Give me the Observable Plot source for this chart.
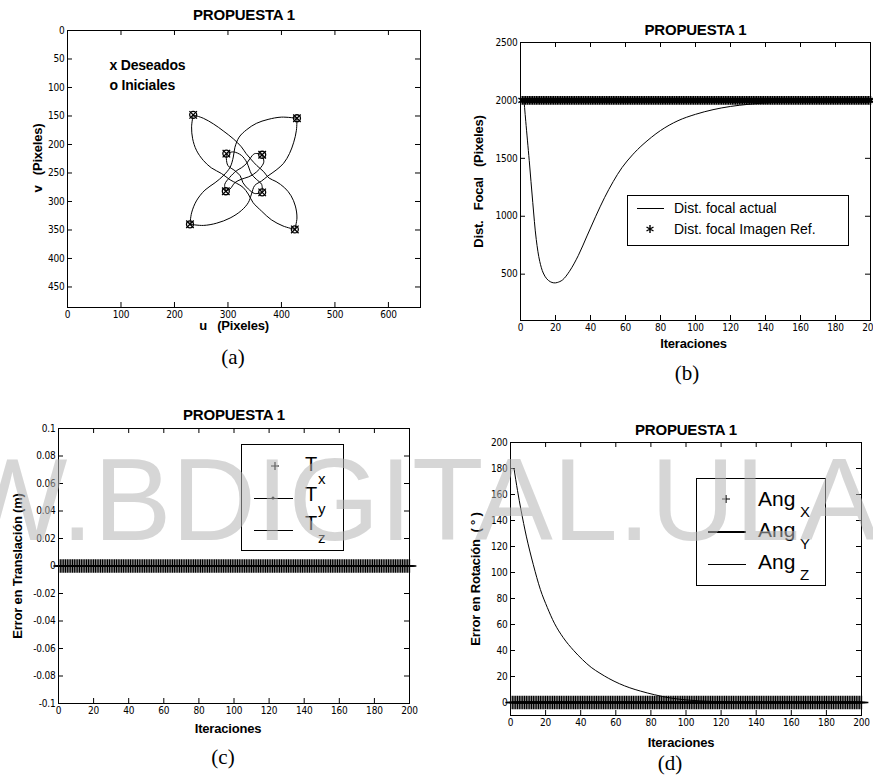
<!DOCTYPE html>
<html>
<head>
<meta charset="utf-8">
<script src="https://cdn.jsdelivr.net/npm/d3@7"></script>
<script src="https://cdn.jsdelivr.net/npm/@observablehq/plot@0.6"></script>
<style>
  body { margin: 0; background: #fff; }
  #page { position: relative; width: 873px; height: 782px; overflow: hidden; background: #fff; font-family: "Liberation Sans", Arial, sans-serif; }
  .cap { position: absolute; font-family: "Liberation Serif", "Times New Roman", serif; font-size: 21px; transform: translate(-50%, -50%); line-height: 1; }
  .legend { position: absolute; box-sizing: border-box; border: 1px solid #000; background: #fff; }
  .legend .ln { position: absolute; border-top: 1px solid #000; height: 0; }
  .legend .lt { position: absolute; transform: translateY(-50%); line-height: 1; white-space: nowrap; color: #000; }
  .legend svg { position: absolute; overflow: visible; }
  #wm { position: absolute; left: -43px; top: 441px; font-family: "Liberation Sans", Arial, sans-serif; font-size: 117px; line-height: 117px; white-space: nowrap; color: rgba(180,180,180,0.55); pointer-events: none; z-index: 10; }
</style>
</head>
<body>
<div id="page"></div>
<script>
// ---------- (a) trayectorias en el plano imagen ----------
const uTicks = [0, 100, 200, 300, 400, 500, 600];
const vTicks = [0, 50, 100, 150, 200, 250, 300, 350, 400, 450];
const puntosU = [235, 429, 229, 425, 297, 364, 296, 364];
const puntosV = [148, 154, 340, 349, 216, 218, 282, 284];
const tray1 = [[235,148],[254,154],[273,164],[291,176],[310,190],[325,204],[334,216],[344,227],[354,237],[366,247],[377,259],[390,265],[406,276],[418,290],[426,308],[429,329],[425,349]];
const tray2 = [[429,154],[428,175],[423,196],[415,216],[404,233],[390,245],[375,255],[363,264],[350,272],[344,287],[338,302],[325,316],[304,329],[279,338],[254,342],[229,340]];
const tray3 = [[425,349],[403,343],[381,332],[363,317],[347,302],[338,287],[328,275],[316,268],[304,262],[288,251],[269,241],[254,228],[241,210],[234,190],[232,169],[235,148]];
const tray4 = [[229,340],[232,320],[241,299],[257,280],[276,267],[291,255],[304,240],[310,222],[313,205],[321,187],[335,174],[353,163],[375,156],[400,152],[429,154]];
const tray5 = [[297,216],[310,213],[325,219],[335,231],[340,243],[344,252],[353,261],[363,270],[364,284]];
const tray6 = [[364,218],[367,231],[359,243],[348,252],[338,257],[325,261],[313,267],[304,278],[296,282]];
const tray7 = [[364,284],[350,286],[338,278],[328,267],[323,255],[313,246],[300,237],[297,225],[297,216]];
const tray8 = [[296,282],[294,270],[303,258],[316,246],[325,241],[335,233],[341,225],[350,216],[364,218]];

// ---------- (b) distancia focal ----------
const iterTicks = [0, 20, 40, 60, 80, 100, 120, 140, 160, 180, 200];
const focalTicks = [500, 1000, 1500, 2000, 2500];
const iterFocal = [2, 3, 5, 7, 9, 11, 13, 15, 17, 19, 21, 24, 28, 33, 38, 43, 48, 53, 58, 64, 70, 80, 90, 100, 110, 120, 130, 140, 155, 170, 200];
const distFocal = [2000, 1820, 1480, 1120, 800, 610, 510, 460, 435, 425, 428, 450, 525, 660, 830, 1000, 1160, 1300, 1420, 1530, 1620, 1740, 1825, 1880, 1920, 1948, 1966, 1978, 1988, 1994, 1998];
const focalRef = 2000;
const iteraciones = d3.range(1, 201);

// ---------- (c) error en translacion ----------
const transTicks = [-0.1, -0.08, -0.06, -0.04, -0.02, 0, 0.02, 0.04, 0.06, 0.08, 0.1];
const errTx = 0, errTy = 0, errTz = 0;

// ---------- (d) error en rotacion ----------
const rotTicks = [0, 20, 40, 60, 80, 100, 120, 140, 160, 180, 200];
const iterAngZ = [2, 4, 6, 9, 13, 17, 21, 25, 30, 36, 41, 46, 51, 56, 62, 68, 74, 82, 91, 100, 115, 130, 150, 175, 200];
const angZ = [180, 163, 148, 128, 106, 87, 73, 61, 50, 40, 33, 27, 22.5, 18.5, 14.5, 11.3, 8.8, 6, 3.5, 2, 0.8, 0.3, 0.1, 0, 0];
const errAngX = 0, errAngY = 0;

const tickFont = '"Liberation Sans Narrow","DejaVu Sans Condensed","Liberation Sans",Arial,sans-serif';
const boldFont = '"Liberation Sans",Arial,sans-serif';
const page = document.getElementById("page");

function makePanel(p) {
  const iw = p.width - p.mL - p.mR, ih = p.height - p.mT - p.mB, t = 5;
  const chart = Plot.plot({
    width: p.width, height: p.height,
    marginLeft: p.mL, marginRight: p.mR, marginTop: p.mT, marginBottom: p.mB,
    x: {domain: p.xDomain, label: null},
    y: {domain: p.yDomain, reverse: !!p.yReverse, label: null},
    style: {fontFamily: tickFont, fontSize: "10px", color: "black", background: "transparent", overflow: "visible", letterSpacing: "-0.2px"},
    marks: [
      ...p.marks,
      Plot.tickX(p.xTicks, {x: d => d, insetTop: ih - t, stroke: "black"}),
      Plot.tickX(p.xTicks, {x: d => d, insetBottom: ih - t, stroke: "black"}),
      Plot.tickY(p.yTicks, {y: d => d, insetRight: iw - t, stroke: "black"}),
      Plot.tickY(p.yTicks, {y: d => d, insetLeft: iw - t, stroke: "black"}),
      Plot.axisX({ticks: p.xTicks, tickSize: 0, tickPadding: 3, tickFormat: d => String(d), label: null}),
      Plot.axisY({ticks: p.yTicks, tickSize: 0, tickPadding: 3, tickFormat: d => String(d), label: null}),
      Plot.frame({stroke: "black", strokeWidth: 1}),
      Plot.text([p.title], {text: d => d, frameAnchor: "top", lineAnchor: "middle", textAnchor: "middle", dx: p.titleDx || 0, dy: p.titleDy, fontFamily: boldFont, fontWeight: "bold", fontSize: 15}),
      Plot.text([p.xLabel], {text: d => d, frameAnchor: "bottom", lineAnchor: "middle", textAnchor: "middle", dx: p.xLabelDx, dy: p.xLabelDy, fontFamily: boldFont, fontWeight: "bold", fontSize: 13}),
      Plot.text([p.yLabel], {text: d => d, frameAnchor: "left", lineAnchor: "middle", textAnchor: "middle", dx: p.yLabelDx, dy: p.yLabelDy || 0, rotate: -90, fontFamily: boldFont, fontWeight: "bold", fontSize: 13})
    ]
  });
  chart.style.position = "absolute";
  chart.style.left = p.left + "px";
  chart.style.top = p.top + "px";
  page.appendChild(chart);
}

const nb = "\u00a0";
const trayectorias = [tray1, tray2, tray3, tray4, tray5, tray6, tray7, tray8]
  .flatMap((tr, i) => tr.map(([u, v]) => ({u, v, id: i})));
const puntos = puntosU.map((u, i) => ({u, v: puntosV[i]}));

// (a)
makePanel({
  left: 0, top: 0, width: 440, height: 345, mL: 67, mR: 20, mT: 30, mB: 38,
  xDomain: [0, 660], yDomain: [0, 486], yReverse: true,
  xTicks: uTicks, yTicks: vTicks,
  title: "PROPUESTA 1", titleDy: -15,
  xLabel: "u" + nb + nb + nb + "(Pixeles)", xLabelDx: -10, xLabelDy: 18,
  yLabel: "v" + nb + nb + nb + "(Pixeles)", yLabelDx: -30, yLabelDy: -11,
  marks: [
    Plot.line(trayectorias, {x: "u", y: "v", z: "id", curve: "catmull-rom", stroke: "black", strokeWidth: 1}),
    Plot.dot(puntos, {x: "u", y: "v", symbol: "circle", r: 3.5, stroke: "black", strokeWidth: 1.3, fill: "none"}),
    Plot.dot(puntos, {x: "u", y: "v", symbol: "times", r: 3.5, stroke: "black", strokeWidth: 1.3, fill: "none"}),
    Plot.text(["x Deseados"], {text: d => d, frameAnchor: "top-left", textAnchor: "start", lineAnchor: "middle", dx: 42, dy: 35, fontFamily: boldFont, fontWeight: "bold", fontSize: 14}),
    Plot.text(["o Iniciales"], {text: d => d, frameAnchor: "top-left", textAnchor: "start", lineAnchor: "middle", dx: 42, dy: 55, fontFamily: boldFont, fontWeight: "bold", fontSize: 14})
  ]
});

// (b)
const focalData = iterFocal.map((it, i) => ({it, f: distFocal[i]}));
makePanel({
  left: 440, top: 0, width: 433, height: 400, mL: 80, mR: 3, mT: 42, mB: 80,
  xDomain: [0, 200], yDomain: [100, 2500],
  xTicks: iterTicks, yTicks: focalTicks,
  title: "PROPUESTA 1", titleDy: -12,
  xLabel: "Iteraciones", xLabelDx: -2, xLabelDy: 23,
  yLabel: "Dist." + nb + nb + nb + "Focal" + nb + nb + nb + "(Pixeles)", yLabelDx: -42,
  marks: [
    Plot.dot(iteraciones, {x: d => d, y: () => focalRef, symbol: "asterisk", r: 4.2, stroke: "black", strokeWidth: 1.5, fill: "none"}),
    Plot.line(focalData, {x: "it", y: "f", curve: "catmull-rom", stroke: "black", strokeWidth: 1})
  ]
});

// (c)
makePanel({
  left: 0, top: 400, width: 440, height: 382, mL: 58, mR: 31, mT: 28, mB: 79,
  xDomain: [0, 200], yDomain: [-0.1, 0.1],
  xTicks: iterTicks, yTicks: transTicks,
  title: "PROPUESTA 1", titleDy: -13,
  xLabel: "Iteraciones", xLabelDx: -6, xLabelDy: 25,
  yLabel: "Error en Translación (m)", yLabelDx: -41,
  marks: [
    Plot.lineY(iteraciones, {x: d => d, y: () => errTz, stroke: "black", strokeWidth: 1}),
    Plot.lineY(iteraciones, {x: d => d, y: () => errTy, stroke: "black", strokeWidth: 1.5}),
    Plot.dot(iteraciones, {x: d => d, y: () => errTx, symbol: "plus", r: 4.5, stroke: "black", strokeWidth: 1.3, fill: "none"})
  ]
});

// (d)
const angData = iterAngZ.map((it, i) => ({it, a: angZ[i]}));
makePanel({
  left: 440, top: 400, width: 433, height: 382, mL: 70, mR: 12, mT: 42, mB: 67,
  xDomain: [0, 200], yDomain: [-10, 200],
  xTicks: iterTicks, yTicks: rotTicks,
  title: "PROPUESTA 1", titleDy: -12,
  xLabel: "Iteraciones", xLabelDx: -5, xLabelDy: 27,
  yLabel: "Error en Rotación" + nb + nb + "(" + nb + "°" + nb + ")", yLabelDx: -35,
  marks: [
    Plot.lineY(iteraciones, {x: d => d, y: () => errAngY, stroke: "black", strokeWidth: 2}),
    Plot.dot(iteraciones, {x: d => d, y: () => errAngX, symbol: "plus", r: 4.5, stroke: "black", strokeWidth: 1.3, fill: "none"}),
    Plot.line(angData, {x: "it", y: "a", curve: "monotone-x", stroke: "black", strokeWidth: 1})
  ]
});

// ---------- legends and captions (HTML overlays) ----------
const plusSvg = (x, y) => `<svg width="10" height="10" style="left:${x - 5}px;top:${y - 5}px"><path d="M5 1V9M1 5H9" stroke="black" stroke-width="1.2"/></svg>`;
const astSvg = (x, y) => `<svg width="10" height="10" style="left:${x - 5}px;top:${y - 5}px"><path d="M5 1V9M1.5 3L8.5 7M1.5 7L8.5 3" stroke="black" stroke-width="1.4"/></svg>`;

page.insertAdjacentHTML("beforeend", `
<div class="legend" style="left:627px;top:195px;width:222px;height:51px">
  <div class="ln" style="left:9px;top:12px;width:27px"></div>
  <span class="lt" style="left:46px;top:12px;font-size:14px">Dist. focal actual</span>
  ${astSvg(22, 33)}
  <span class="lt" style="left:46px;top:33px;font-size:14px">Dist. focal Imagen Ref.</span>
</div>
<div class="legend" style="left:241px;top:444px;width:103px;height:107px">
  ${plusSvg(33, 21)}
  <span class="lt" style="left:63px;top:19px;font-size:20px">T</span>
  <span class="lt" style="left:76px;top:33px;font-size:15px">x</span>
  <div class="ln" style="left:12px;top:53px;width:39px"></div>
  <svg width="4" height="4" style="left:29px;top:51px"><circle cx="2" cy="2" r="1.5" fill="black"/></svg>
  <span class="lt" style="left:63px;top:49px;font-size:20px">T</span>
  <span class="lt" style="left:76px;top:63px;font-size:15px">y</span>
  <div class="ln" style="left:12px;top:85px;width:39px"></div>
  <span class="lt" style="left:63px;top:78px;font-size:20px">T</span>
  <span class="lt" style="left:76px;top:92px;font-size:15px">z</span>
</div>
<div class="legend" style="left:696px;top:478px;width:130px;height:108px">
  ${plusSvg(29, 20)}
  <span class="lt" style="left:61px;top:19px;font-size:21px">Ang</span>
  <span class="lt" style="left:103px;top:32px;font-size:15px">X</span>
  <div class="ln" style="left:11px;top:52px;width:38px;border-top-width:2px"></div>
  <span class="lt" style="left:61px;top:50px;font-size:21px">Ang</span>
  <span class="lt" style="left:103px;top:64px;font-size:15px">Y</span>
  <div class="ln" style="left:11px;top:85px;width:38px"></div>
  <span class="lt" style="left:61px;top:82px;font-size:21px">Ang</span>
  <span class="lt" style="left:103px;top:95px;font-size:15px">Z</span>
</div>
<div class="cap" style="left:233px;top:357px">(a)</div>
<div class="cap" style="left:687px;top:373px">(b)</div>
<div class="cap" style="left:223px;top:757px">(c)</div>
<div class="cap" style="left:670px;top:763px">(d)</div>
<div id="wm">W.BDIGITAL.ULA</div>
`);
</script>
</body>
</html>
